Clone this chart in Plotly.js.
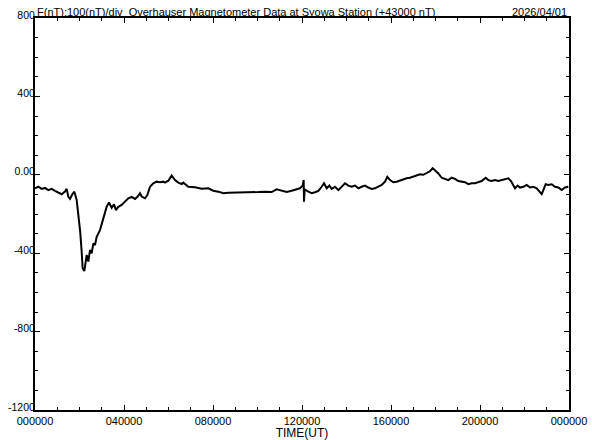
<!DOCTYPE html>
<html>
<head>
<meta charset="utf-8">
<script src="https://cdn.plot.ly/plotly-3.0.1.min.js"></script>
<style>html,body{margin:0;padding:0;background:#fff;}#chart{width:592px;height:440px;}</style>
</head>
<body>
<div id="chart"></div>
<script>
// Time of day in hours (UT) and total force F minus 43000 nT
const timeHours = [
  0.000, 0.150, 0.300, 0.449, 0.599, 0.749, 0.899, 1.049, 1.199, 1.348, 1.423, 1.498, 1.573, 1.678, 1.768, 1.873,
  1.948, 2.031, 2.097, 2.142, 2.217, 2.277, 2.322, 2.397, 2.472, 2.547, 2.622, 2.697, 2.772, 2.921, 3.005, 3.146,
  3.221, 3.326, 3.446, 3.551, 3.640, 3.745, 3.895, 4.045, 4.195, 4.345, 4.494, 4.614, 4.719, 4.794, 4.944, 5.049,
  5.169, 5.318, 5.468, 5.618, 5.768, 5.843, 5.993, 6.142, 6.292, 6.442, 6.592, 6.667, 6.891, 7.191, 7.491, 7.790,
  8.015, 8.240, 8.464, 8.689, 8.989, 9.438, 9.738, 10.037, 10.337, 10.637, 10.861, 11.086, 11.311, 11.536, 11.835,
  11.910, 12.030, 12.075, 12.090, 12.120, 12.285, 12.435, 12.584, 12.734, 12.884, 12.989, 13.109, 13.229, 13.334,
  13.483, 13.633, 13.783, 13.933, 14.082, 14.232, 14.382, 14.532, 14.682, 14.831, 14.981, 15.131, 15.281, 15.431,
  15.580, 15.730, 15.835, 15.955, 16.105, 16.254, 16.404, 16.554, 16.704, 16.854, 17.004, 17.154, 17.303, 17.453,
  17.603, 17.753, 17.873, 17.978, 18.127, 18.277, 18.427, 18.577, 18.727, 18.876, 19.026, 19.176, 19.326, 19.476,
  19.625, 19.775, 19.925, 20.075, 20.254, 20.374, 20.524, 20.674, 20.824, 20.974, 21.124, 21.273, 21.393, 21.498,
  21.573, 21.693, 21.798, 21.948, 22.097, 22.247, 22.397, 22.547, 22.697, 22.772, 22.846, 22.951, 23.071, 23.221,
  23.371, 23.521, 23.671, 23.820, 23.970
];
const fieldNT = [
  -69, -61, -72, -67, -78, -72, -82, -89, -99, -85, -72, -112, -123, -99, -86, -128,
  -197, -290, -392, -477, -491, -452, -409, -443, -384, -401, -350, -358, -316, -282, -248, -188,
  -163, -141, -168, -151, -180, -163, -154, -137, -120, -113, -123, -111, -94, -111, -120, -103,
  -61, -43, -35, -38, -35, -40, -30, -4, -27, -40, -47, -40, -61, -64, -71, -69,
  -81, -86, -94, -91, -91, -90, -91, -88, -86, -88, -74, -81, -88, -81, -74,
  -69, -55, -27, -137, -75, -86, -94, -89, -82, -61, -43, -69, -55, -72,
  -61, -78, -61, -43, -55, -61, -55, -69, -61, -55, -65, -72, -69, -61,
  -52, -35, -10, -27, -38, -35, -28, -21, -18, -15, -10, -4, 3, 0,
  9, 18, 34, 24, 7, -15, -21, -27, -15, -21, -32, -35, -38, -48,
  -43, -43, -38, -32, -15, -27, -32, -27, -32, -27, -21, -18, -32, -52,
  -69, -55, -65, -61, -52, -65, -61, -69, -86, -99, -78, -48, -52, -48,
  -61, -65, -78, -65, -61
];
const xTickVals = [0, 4, 8, 12, 16, 20, 24];
const xTickText = ["000000", "040000", "080000", "120000", "160000", "200000", "000000"];
const yTickVals = [-1200, -800, -400, 0, 400, 800];
const yTickText = ["-1200", "-800", "-400", "0.00", "400", "800"];
const titleLeft = "F(nT):100(nT)/div  Overhauser Magnetometer Data at Syowa Station (+43000 nT)";
const titleDate = "2026/04/01";
const xTitle = "TIME(UT)";

const font = "Liberation Sans, Arial, sans-serif";
const trace = {
  x: timeHours, y: fieldNT, type: "scatter", mode: "lines",
  line: {color: "#000", width: 2}, hoverinfo: "skip"
};
const layout = {
  width: 592, height: 440,
  margin: {l: 35, r: 23, t: 18, b: 30, pad: 0},
  paper_bgcolor: "#fff", plot_bgcolor: "#fff",
  showlegend: false,
  font: {family: font, size: 11, color: "#000"},
  xaxis: {
    range: [0, 24], tickvals: xTickVals, ticktext: xTickText,
    showgrid: false, zeroline: false, showline: true, linecolor: "#000", linewidth: 2,
    mirror: "ticks", ticks: "inside", ticklen: 5, tickwidth: 1, tickcolor: "#000",
    minor: {dtick: 1, tick0: 0, ticks: "inside", ticklen: 3, tickcolor: "#000", tickwidth: 1, showgrid: false},
    tickfont: {family: font, size: 11, color: "#000"},
    ticklabelstandoff: 0,
    title: {text: xTitle, font: {family: font, size: 12, color: "#000"}, standoff: 0}
  },
  yaxis: {
    range: [-1200, 800], tickvals: yTickVals, ticktext: yTickText,
    showgrid: false, zeroline: false, showline: true, linecolor: "#000", linewidth: 2,
    mirror: "ticks", ticks: "inside", ticklen: 5, tickwidth: 1, tickcolor: "#000",
    minor: {dtick: 100, tick0: 0, ticks: "inside", ticklen: 3, tickcolor: "#000", tickwidth: 1, showgrid: false},
    tickfont: {family: font, size: 10.5, color: "#000"},
    ticklabelstandoff: -4,
    ticklabelshift: -3
  },
  annotations: [
    {text: titleLeft, xref: "paper", yref: "paper", x: 0, y: 1, xanchor: "left", yanchor: "bottom",
     showarrow: false, font: {family: font, size: 11, color: "#000"}, yshift: -2},
    {text: titleDate, xref: "paper", yref: "paper", x: 1, y: 1, xanchor: "right", yanchor: "bottom",
     showarrow: false, font: {family: font, size: 11, color: "#000"}, yshift: -2}
  ]
};
Plotly.newPlot("chart", [trace], layout, {displayModeBar: false, staticPlot: true});
</script>
</body>
</html>
